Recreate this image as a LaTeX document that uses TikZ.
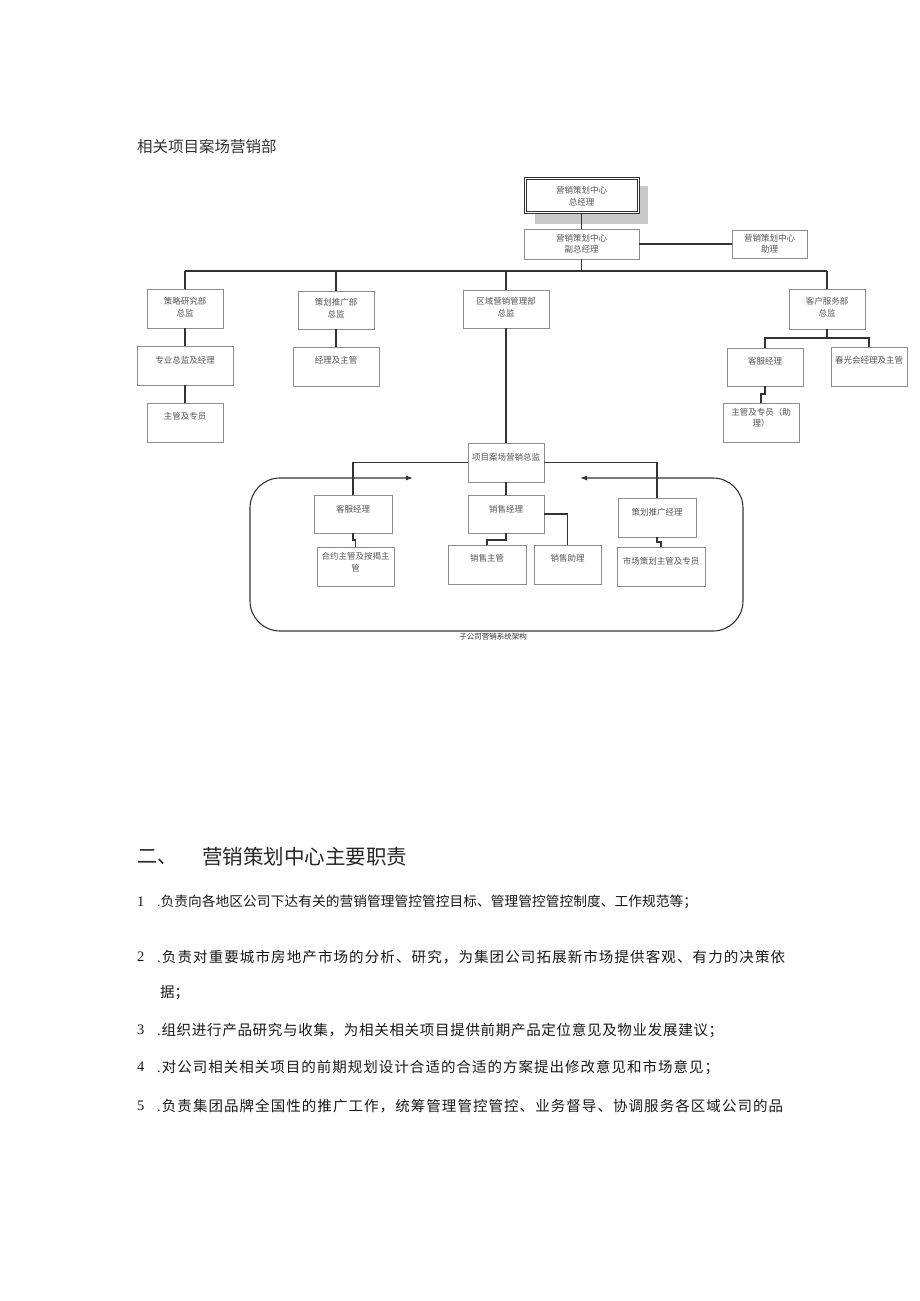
\documentclass[tikz,border=0pt]{standalone}
\usepackage{fontspec}
\setmainfont{Liberation Serif}
\newfontfamily\cjk{Noto Sans CJK SC}
\usetikzlibrary{arrows.meta}
\definecolor{boxgray}{HTML}{8C8C8C}
\definecolor{txtgray}{HTML}{555555}
\definecolor{lngray}{HTML}{333333}
\definecolor{shadowgray}{HTML}{C8C8C8}
\makeatletter
\def\myspi#1{\ifx\relax#1\else\hskip0pt plus 1pt\relax #1\expandafter\myspi\fi}
\makeatother
\newcommand\myline[2]{\makebox[#1][s]{.\cjk\myspi#2\relax}}
\tikzset{
  bx/.style={draw=boxgray, line width=0.8pt, fill=white, inner sep=0pt, outer sep=0pt},
  bt/.style={font=\cjk\fontsize{8.5}{11.5}\selectfont, text=txtgray, align=center, inner sep=0pt},
  cn/.style={draw=lngray, line width=1.1pt},
  body/.style={font=\fontsize{14.5}{17}\selectfont, anchor=west, inner sep=0pt, text=black!90},
}
\newcommand\obox[7]{%
  \node[bx, minimum width={(#4-#2)*1pt}, minimum height={(#5-#3)*1pt}] (#1) at ({(#2+#4)/2},{(#3+#5)/2}) {};
  \node[bt] (#1t) at ({(#2+#4)/2},#6) {#7};}
\begin{document}
\begin{tikzpicture}[x=1pt,y=-1pt]
\useasboundingbox[fill=white] (0,0) rectangle (920,1301);

% title
\node[anchor=west, inner sep=0pt, font=\cjk\fontsize{15.5}{18}\selectfont, text=black!80] (title) at (137,147) {相关项目案场营销部};

% top box with shadow
\fill[shadowgray] (535,186) rectangle (648,224);
\node[draw=black!80, line width=1pt, double=white, double distance=1pt, fill=white, minimum width=113pt, minimum height=34pt, inner sep=0pt, outer sep=0pt] (A) at (581.5,195.5) {};
\node[bt] (At) at (581.5,196) {营销策划中心\\总经理};

\obox{B}{524}{229}{639}{259}{244}{营销策划中心\\副总经理}
\obox{C}{732}{230}{807}{258}{244}{营销策划中心\\助理}

\obox{D1}{147}{289}{223}{328}{307}{策略研究部\\总监}
\obox{D2}{298}{291}{374}{329}{308}{策划推广部\\总监}
\obox{D3}{463}{290}{549}{328}{307}{区域营销管理部\\总监}
\obox{D4}{789}{289}{865}{329}{307}{客户服务部\\总监}

\obox{E1}{137}{346}{233}{385}{360}{专业总监及经理}
\obox{E2}{147}{403}{223}{442}{416}{主管及专员}
\obox{E3}{293}{347}{379}{386}{360}{经理及主管}
\obox{E4}{727}{348}{803}{386}{361}{客服经理}
\obox{E5}{831}{347}{907}{386}{360}{春光会经理及主管}
\obox{E6}{723}{403}{799}{442}{418}{主管及专员（助\\理）}

\obox{F}{468}{443}{544}{482}{457}{项目案场营销总监}
\obox{G1}{314}{495}{392}{533}{509}{客服经理}
\obox{G2}{468}{495}{544}{533}{509}{销售经理}
\obox{G3}{618}{498}{696}{537}{512}{策划推广经理}
\obox{H1}{317}{547}{394}{586}{562}{合约主管及按揭主\\管}
\obox{H2}{448}{545}{526}{584}{558}{销售主管}
\obox{H3}{534}{545}{601}{584}{558}{销售助理}
\obox{H4}{617}{547}{705}{586}{561}{市场策划主管及专员}

% connectors
\coordinate (busL) at (185,271);
\coordinate (busR) at (827,271);
\draw[cn] (A.south) -- (B.north);
\draw[cn] (B.east) -- (C.west);
\draw[cn] (B.south) -- (B.south |- busL);
\draw[cn, line width=1.4pt] (busL) -- (busR);
\draw[cn] (busL) -- (D1.north);
\draw[cn] (D2.north |- busL) -- (D2.north);
\draw[cn] (D3.north |- busL) -- (D3.north);
\draw[cn] (busR) -- (D4.north);
\draw[cn] (D1.south) -- (E1.north);
\draw[cn] (E1.south) -- (E2.north);
\draw[cn] (D2.south) -- (E3.north);
\draw[cn] (D3.south) -- (F.north);
\coordinate (cs) at (827,338);
\draw[cn] (D4.south) -- (cs);
\draw[cn] (E4.north) |- (cs) -| (E5.north);
\draw[cn] (E4.south) -- ++(0,8) -| (E6.north);
\draw[cn] (F.west) -| (G1.north);
\draw[cn] (F.east) -| (G3.north);
\draw[cn] (F.south) -- (G2.north);
\draw[cn] (G2.south) -- ++(0,7) -| (H2.north);
\draw[cn] (G2.east) -| (H3.north);
\draw[cn] (G1.south) -- ++(0,7) -| (H1.north);
\draw[cn] (G3.south) -- ++(0,5) -| (H4.north);

% rounded frame with arrows
\coordinate (fr1) at (580,478);
\coordinate (fr2) at (413,478);
\draw[cn, rounded corners=30pt, {Latex[length=7pt,width=5pt]}-{Latex[length=7pt,width=5pt]}]
  (fr1) -- (743,478) -- (743,631) -- (250,631) -- (250,478) -- (fr2);
\node[inner sep=0pt, font=\cjk\fontsize{7.5}{9}\selectfont, text=black!80] (cap) at (493,637) {子公司营销系统架构};

% heading
\node[anchor=west, inner sep=0pt, font=\cjk\fontsize{20}{24}\selectfont, text=black!85] (h0) at (137,857) {二、};
\node[anchor=west, inner sep=0pt, font=\cjk\fontsize{20.5}{24}\selectfont, text=black!85] (h1) at (202,857) {营销策划中心主要职责};

% body lines
\node[body] (n1) at (137,902) {1};
\node[body, font=\fontsize{13.7}{17}\selectfont] (l1) at (157,902) {\myline{540pt}{负责向各地区公司下达有关的营销管理管控管控目标、管理管控管控制度、工作规范等；}};
\node[body] (n2) at (137,957) {2};
\node[body] (l2) at (157,957) {\myline{628pt}{负责对重要城市房地产市场的分析、研究，为集团公司拓展新市场提供客观、有力的决策依}};
\node[body] (l2b) at (160,993) {\cjk 据；};
\node[body] (n3) at (137,1030) {3};
\node[body] (l3) at (157,1030) {\myline{566pt}{组织进行产品研究与收集，为相关相关项目提供前期产品定位意见及物业发展建议；}};
\node[body] (n4) at (137,1067) {4};
\node[body] (l4) at (157,1067) {\myline{562pt}{对公司相关相关项目的前期规划设计合适的合适的方案提出修改意见和市场意见；}};
\node[body] (n5) at (137,1106) {5};
\node[body] (l5) at (157,1106) {\myline{626pt}{负责集团品牌全国性的推广工作，统筹管理管控管控、业务督导、协调服务各区域公司的品}};
\end{tikzpicture}
\end{document}
